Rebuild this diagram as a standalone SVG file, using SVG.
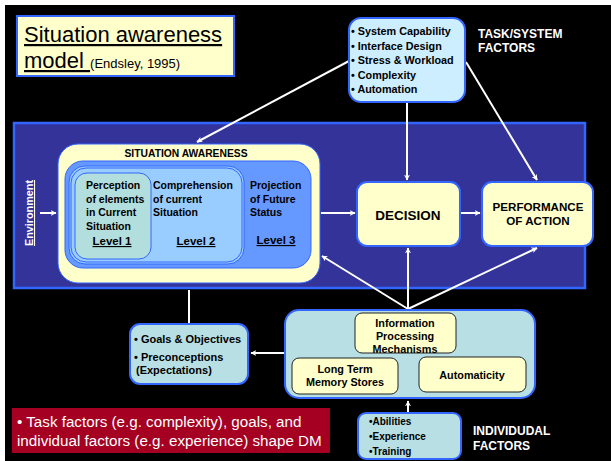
<svg xmlns="http://www.w3.org/2000/svg" width="611" height="461" viewBox="0 0 611 461">
  <style>
    text { font-family: "Liberation Sans", Arial, sans-serif; font-weight: bold; fill: #000; }
    text.n { font-weight: normal; }
    .w { fill: #fff; }
    .c { text-anchor: middle; }
    .u { text-decoration: underline; }
    .box { stroke: #3366ff; stroke-width: 2; }
    .yel { fill: #ffffcc; }
    .lblue { fill: #cceeff; }
    .teal { fill: #b8dfe4; }
    .inner { fill: #ffffcc; stroke: #222; stroke-width: 1; }
    .conn { stroke: #fff; stroke-width: 2; fill: none; }
    .arr { marker-end: url(#ah); }
  </style>
  <defs>
    <marker id="ah" viewBox="0 0 10 10" refX="9" refY="5" markerWidth="6" markerHeight="6" orient="auto" markerUnits="userSpaceOnUse">
      <path d="M0,0 L10,5 L0,10 L3,5 Z" fill="#fff"/>
    </marker>
  </defs>

  <!-- page background -->
  <rect x="0" y="0" width="611" height="461" fill="#fff"/>
  <rect x="5" y="5" width="606" height="456" fill="#000"/>

  <!-- title -->
  <g id="title">
    <rect x="17" y="16" width="217" height="60" class="box yel"/>
    <text x="24" y="42" font-size="22" class="n u">Situation awareness</text>
    <text x="24" y="68" font-size="22" class="n"><tspan text-decoration="underline">model </tspan><tspan font-size="13">(Endsley, 1995)</tspan></text>
  </g>

  <!-- environment region -->
  <g id="environment">
    <rect x="14" y="123" width="571" height="165" fill="#333399" stroke="#3366ff" stroke-width="2.5"/>
    <text transform="translate(33,213) rotate(-90)" font-size="10.8" class="w c u">Environment</text>
  </g>

  <!-- connectors -->
  <g id="connectors">
    <line x1="40" y1="213" x2="56" y2="213" class="conn arr"/>
    <line x1="349" y1="61" x2="197" y2="142" class="conn arr"/>
    <line x1="407" y1="103" x2="407" y2="180" class="conn arr"/>
    <line x1="466" y1="62" x2="537" y2="180" class="conn arr"/>
    <line x1="321" y1="213" x2="355" y2="213" class="conn arr"/>
    <line x1="461" y1="213" x2="480" y2="213" class="conn arr"/>
    <line x1="408" y1="309" x2="322" y2="256" class="conn arr"/>
    <line x1="408" y1="309" x2="408" y2="248" class="conn arr"/>
    <line x1="408" y1="309" x2="537" y2="248" class="conn arr"/>
    <line x1="284" y1="353" x2="251" y2="353" class="conn arr"/>
    <line x1="189" y1="323" x2="189" y2="290" class="conn"/>
    <line x1="408" y1="413" x2="408" y2="401" class="conn arr"/>
  </g>

  <!-- task / system factors -->
  <g id="task-factors">
    <rect x="349" y="18" width="116" height="84" rx="12" class="box lblue"/>
    <text x="351" y="35" font-size="10.8">• System Capability</text>
    <text x="351" y="49.5" font-size="10.8">• Interface Design</text>
    <text x="351" y="64" font-size="10.8">• Stress &amp; Workload</text>
    <text x="351" y="78.5" font-size="10.8">• Complexity</text>
    <text x="351" y="93" font-size="10.8">• Automation</text>
    <text x="478" y="38" font-size="12" class="w">TASK/SYSTEM</text>
    <text x="478" y="52" font-size="12" class="w">FACTORS</text>
  </g>

  <!-- situation awareness -->
  <g id="situation-awareness">
    <rect x="58" y="144" width="262" height="139" rx="20" fill="#ffffcc" stroke="#3366ff" stroke-width="1"/>
    <text x="186" y="157" font-size="10.3" class="c">SITUATION AWARENESS</text>
    <rect x="65" y="161" width="246" height="107" rx="18" fill="#6699ff" stroke="#3366ff" stroke-width="1"/>
    <rect x="69" y="166" width="175" height="98" rx="16" fill="#99ccff" stroke="#3366ff" stroke-width="1"/>
    <rect x="71" y="168" width="171" height="94" rx="15" fill="#99ccff" stroke="#3366ff" stroke-width="1"/>
    <rect x="75" y="173" width="76" height="86" rx="12" fill="#b3dede" stroke="#3366ff" stroke-width="1"/>
    <g id="level-1">
      <text x="86" y="189" font-size="10.5">Perception</text>
      <text x="86" y="202.5" font-size="10.5">of elements</text>
      <text x="86" y="216" font-size="10.5">in Current</text>
      <text x="86" y="229.5" font-size="10.5">Situation</text>
      <text x="112" y="245" font-size="11.5" class="c u">Level 1</text>
    </g>
    <g id="level-2">
      <text x="153" y="189" font-size="10.5">Comprehension</text>
      <text x="153" y="202.5" font-size="10.5">of current</text>
      <text x="153" y="216" font-size="10.5">Situation</text>
      <text x="196" y="245" font-size="11.5" class="c u">Level 2</text>
    </g>
    <g id="level-3">
      <text x="250" y="189" font-size="10.5">Projection</text>
      <text x="250" y="202.5" font-size="10.5">of Future</text>
      <text x="250" y="216" font-size="10.5">Status</text>
      <text x="276" y="244" font-size="11.5" class="c u">Level 3</text>
    </g>
  </g>

  <!-- decision -->
  <g id="decision">
    <rect x="357" y="182" width="103" height="64" rx="10" class="box yel"/>
    <text x="408" y="220" font-size="13.5" class="c">DECISION</text>
  </g>

  <!-- performance of action -->
  <g id="performance">
    <rect x="482" y="182" width="111" height="64" rx="10" class="box yel"/>
    <text x="538" y="211" font-size="11.6" class="c">PERFORMANCE</text>
    <text x="538" y="225" font-size="11.6" class="c">OF ACTION</text>
  </g>

  <!-- goals -->
  <g id="goals">
    <rect x="130" y="324" width="118" height="60" rx="10" class="box teal"/>
    <text x="134" y="343" font-size="11">• Goals &amp; Objectives</text>
    <text x="134" y="361" font-size="11">• Preconceptions</text>
    <text x="136" y="374" font-size="11">(Expectations)</text>
  </g>

  <!-- processing mechanisms -->
  <g id="mechanisms">
    <rect x="285" y="310" width="250" height="88" rx="14" class="box teal"/>
    <rect x="355" y="313" width="101" height="40" rx="7" class="inner"/>
    <text x="405" y="327" font-size="10.8" class="c">Information</text>
    <text x="405" y="340" font-size="10.8" class="c">Processing</text>
    <text x="405" y="353" font-size="10.8" class="c">Mechanisms</text>
    <rect x="292" y="358" width="106" height="36" rx="7" class="inner"/>
    <text x="345" y="373" font-size="10.8" class="c">Long Term</text>
    <text x="345" y="386" font-size="10.8" class="c">Memory Stores</text>
    <rect x="419" y="357" width="107" height="35" rx="7" class="inner"/>
    <text x="472" y="379" font-size="10.8" class="c">Automaticity</text>
  </g>

  <!-- individual factors -->
  <g id="individual-factors">
    <rect x="358" y="413" width="103" height="46" rx="8" class="box teal"/>
    <text x="369" y="425" font-size="10">•Abilities</text>
    <text x="369" y="440" font-size="10">•Experience</text>
    <text x="369" y="455" font-size="10">•Training</text>
    <text x="473" y="435" font-size="12" class="w">INDIVIDUDAL</text>
    <text x="473" y="450" font-size="12" class="w">FACTORS</text>
  </g>

  <!-- summary note -->
  <g id="note">
    <rect x="12" y="408" width="318" height="45" fill="#a50021"/>
    <text x="17" y="427" font-size="15.2" class="n w">• Task factors (e.g. complexity), goals, and</text>
    <text x="17" y="446" font-size="15.2" class="n w">individual factors (e.g. experience) shape DM</text>
  </g>
</svg>
